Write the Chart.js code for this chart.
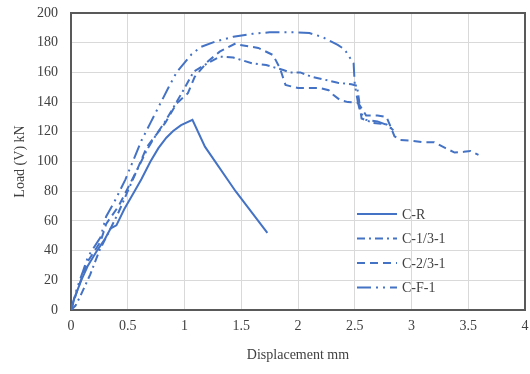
<!DOCTYPE html>
<html>
<head>
<meta charset="utf-8">
<script src="https://cdn.jsdelivr.net/npm/chart.js@4/dist/chart.umd.min.js"></script>
<style>
    html, body { margin: 0; padding: 0; background: #fff; }
    #grafico { width: 530px; height: 374px; }
</style>
</head>
<body>
<div id="grafico"><canvas id="cv"></canvas></div>
<script>
// Dados (deslocamento em mm, carga em kN)
const crX = [0, 0.03, 0.09, 0.15, 0.23, 0.3, 0.35, 0.4, 0.47, 0.56, 0.62, 0.7, 0.77, 0.84, 0.9, 0.97, 1.07, 1.18, 1.45, 1.73];
const crY = [0, 8, 20, 30, 40, 48, 55, 57, 68, 80, 88, 100, 109, 116, 120.5, 124.5, 128, 110, 80, 52];

const c13X = [0, 0.04, 0.08, 0.17, 0.25, 0.33, 0.42, 0.5, 0.58, 0.67, 0.75, 0.83, 0.9, 0.975, 1.08, 1.2, 1.31, 1.43, 1.6, 1.72, 1.87, 1.93, 2.02, 2.12, 2.24, 2.35, 2.47, 2.52, 2.56, 2.66, 2.78, 2.84];
const c13Y = [0, 3, 9, 24, 40, 52, 66, 80, 94, 108, 118, 127, 136, 146, 160.5, 166, 170.6, 170, 166, 165, 161.6, 160, 160, 157, 155, 153, 152, 151, 129, 126, 125, 121];

const c23X = [0, 0.05, 0.11, 0.15, 0.26, 0.31, 0.42, 0.5, 0.58, 0.67, 0.75, 0.83, 0.93, 1.03, 1.09, 1.2, 1.31, 1.45, 1.49, 1.65, 1.78, 1.84, 1.89, 2.0, 2.19, 2.27, 2.31, 2.37, 2.44, 2.53, 2.6, 2.7, 2.78, 2.85, 2.9, 3.0, 3.1, 3.2, 3.3, 3.38, 3.46, 3.52, 3.59];
const c23Y = [0, 12, 25, 33, 46, 58, 70, 82, 94, 110, 118, 126, 139, 146, 157, 167, 174, 179.5, 178.5, 176.5, 171.7, 163, 151.5, 149.5, 149.5, 148, 145, 141.4, 140, 139.5, 131, 131, 130, 117, 114.5, 114, 113, 113, 109, 106, 106.5, 107, 104.4];

const cfX = [0, 0.05, 0.11, 0.15, 0.26, 0.31, 0.39, 0.48, 0.55, 0.62, 0.7, 0.78, 0.86, 0.93, 1.06, 1.14, 1.28, 1.43, 1.6, 1.75, 1.99, 2.1, 2.21, 2.35, 2.41, 2.49, 2.5, 2.53, 2.55, 2.6, 2.7, 2.77, 2.85];
const cfY = [0, 14, 27, 36, 49, 63, 74, 88, 101, 114, 126, 138, 150, 160, 172, 177, 181, 184, 186, 187, 187, 186.5, 184, 178.5, 175.5, 166, 152, 139, 133, 128, 127, 125, 121];

const nomesSeries = ['C-R', 'C-1/3-1', 'C-2/3-1', 'C-F-1'];
const ticksX = [0, 0.5, 1, 1.5, 2, 2.5, 3, 3.5, 4];
const ticksY = [0, 20, 40, 60, 80, 100, 120, 140, 160, 180, 200];

const AZUL = '#4472c4';
const tracos = [[], [8, 4, 2, 4], [8, 5], [14, 5, 2, 5, 2, 5]];
const fonteSerif = "'Liberation Serif', 'Times New Roman', serif";

function montarPontos(xs, ys) {
    return xs.map((x, i) => ({ x: x, y: ys[i] }));
}

function montarSerie(indice, xs, ys) {
    return {
        label: nomesSeries[indice],
        data: montarPontos(xs, ys),
        borderColor: AZUL,
        backgroundColor: AZUL,
        borderWidth: 2,
        borderDash: tracos[indice],
        pointRadius: 0,
        tension: 0,
        fill: false
    };
}

// Moldura em volta da área do gráfico
const pluginMoldura = {
    id: 'moldura',
    beforeDatasetsDraw(chart) {
        const { ctx, chartArea: a } = chart;
        ctx.save();
        ctx.strokeStyle = '#595959';
        ctx.lineWidth = 2;
        ctx.strokeRect(a.left, a.top, a.right - a.left, a.bottom - a.top);
        ctx.restore();
    }
};

// Legenda dentro da área do gráfico
const pluginLegenda = {
    id: 'legendaInterna',
    afterDraw(chart) {
        const { ctx, chartArea: a } = chart;
        const x0 = a.left + 286;
        const y0 = a.top + 201;
        ctx.save();
        ctx.font = '14px ' + fonteSerif;
        ctx.textBaseline = 'middle';
        nomesSeries.forEach((nome, i) => {
            const y = y0 + i * 24.5;
            ctx.strokeStyle = AZUL;
            ctx.lineWidth = 2;
            ctx.setLineDash(tracos[i]);
            ctx.beginPath();
            ctx.moveTo(x0, y);
            ctx.lineTo(x0 + 40, y);
            ctx.stroke();
            ctx.setLineDash([]);
            ctx.fillStyle = '#404040';
            ctx.fillText(nome, x0 + 45, y + 1);
        });
        ctx.restore();
    }
};

function criarGrafico() {
    const ctx = document.getElementById('cv').getContext('2d');
    return new Chart(ctx, {
        type: 'line',
        data: {
            datasets: [
                montarSerie(0, crX, crY),
                montarSerie(1, c13X, c13Y),
                montarSerie(2, c23X, c23Y),
                montarSerie(3, cfX, cfY)
            ]
        },
        options: {
            responsive: true,
            maintainAspectRatio: false,
            animation: false,
            layout: { padding: { top: 13, right: 5, left: 0, bottom: 0 } },
            plugins: {
                legend: { display: false },
                tooltip: { enabled: false }
            },
            scales: {
                x: {
                    type: 'linear',
                    min: ticksX[0],
                    max: ticksX[ticksX.length - 1],
                    afterBuildTicks: (s) => { s.ticks = ticksX.map(v => ({ value: v })); },
                    afterFit: (s) => { s.height = 64; s.paddingLeft = 0; s.paddingRight = 0; },
                    grid: { color: '#d9d9d9', lineWidth: 1, drawTicks: false },
                    border: { display: false },
                    ticks: {
                        padding: 8,
                        color: '#404040',
                        font: { family: fonteSerif, size: 14 },
                        maxRotation: 0,
                        callback: (v) => String(v)
                    },
                    title: {
                        display: true,
                        text: 'Displacement mm',
                        color: '#404040',
                        font: { family: fonteSerif, size: 14 },
                        padding: { top: 0, bottom: 10 }
                    }
                },
                y: {
                    type: 'linear',
                    min: ticksY[0],
                    max: ticksY[ticksY.length - 1],
                    afterBuildTicks: (s) => { s.ticks = ticksY.map(v => ({ value: v })); },
                    afterFit: (s) => { s.width = 71; s.paddingTop = 0; s.paddingBottom = 0; },
                    grid: { color: '#d9d9d9', lineWidth: 1, drawTicks: false },
                    border: { display: false },
                    ticks: {
                        padding: 13,
                        color: '#404040',
                        font: { family: fonteSerif, size: 14 },
                        callback: (v) => String(v)
                    },
                    title: {
                        display: true,
                        text: 'Load (V) kN',
                        color: '#404040',
                        font: { family: fonteSerif, size: 14 },
                        padding: { top: 12, bottom: 0 }
                    }
                }
            }
        },
        plugins: [pluginMoldura, pluginLegenda]
    });
}

document.addEventListener('DOMContentLoaded', criarGrafico);
</script>
</body>
</html>
